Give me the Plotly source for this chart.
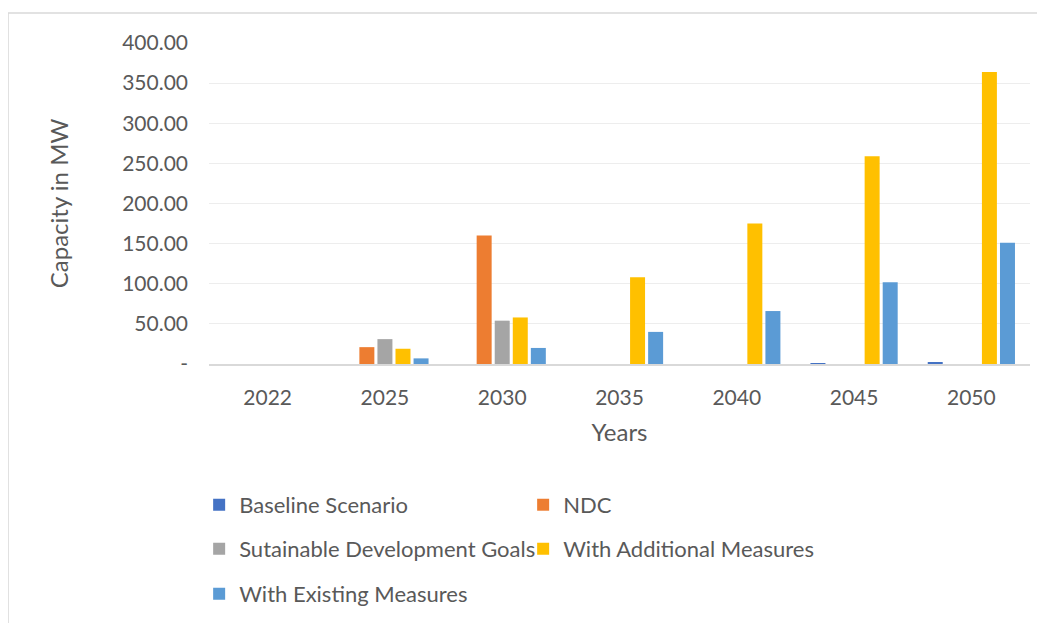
import plotly.graph_objects as go

years = ["2022", "2025", "2030", "2035", "2040", "2045", "2050"]
baseline = [0, 0, 0, 0, 0, 1.2, 1.8]
ndc = [0, 21, 160, 0, 0, 0, 0]
sdg = [0, 31, 54, 0, 0, 0, 0]
wam = [0, 19, 58, 108, 175, 259, 364]
wem = [0, 7, 20, 40, 66, 102, 151]

series = [
    ("Baseline Scenario", baseline, "#4472C4", "legend"),
    ("NDC", ndc, "#ED7D31", "legend"),
    ("Sutainable Development Goals", sdg, "#A5A5A5", "legend2"),
    ("With Additional Measures", wam, "#FFC000", "legend2"),
    ("With Existing Measures", wem, "#5B9BD5", "legend3"),
]

ytick_vals = [0, 50, 100, 150, 200, 250, 300, 350, 400]
ytick_text = ["-", "50.00", "100.00", "150.00", "200.00", "250.00", "300.00", "350.00", "400.00"]

font_family = "Lato, 'Noto Sans', sans-serif"
gray = "#595959"

fig = go.Figure()
for name, vals, col, lg in series:
    fig.add_trace(go.Bar(x=years, y=vals, name=name, marker_color=col,
                         marker_line_width=0, legend=lg))

def legend_at(y):
    return dict(orientation="h", x=-0.012, y=y, xanchor="left", yanchor="middle",
                entrywidth=279, entrywidthmode="pixels", traceorder="normal",
                font=dict(size=22, color=gray), bgcolor="rgba(0,0,0,0)")

fig.update_layout(
    width=1045, height=623,
    paper_bgcolor="white", plot_bgcolor="white",
    margin=dict(l=201, r=23, t=35, b=267, autoexpand=False),
    barmode="group", bargap=0.23, bargroupgap=0.17,
    font=dict(family=font_family, color=gray, size=21),
    xaxis=dict(type="category", showline=True, linecolor="#d9d9d9", linewidth=2,
               ticks="", tickfont=dict(size=21, color=gray), automargin=False,
               ticklabelstandoff=14,
               title=dict(text="Years", font=dict(size=24, color=gray), standoff=16)),
    yaxis=dict(range=[0, 400], tickvals=ytick_vals, ticktext=ytick_text,
               showgrid=True, gridcolor="#ededed", gridwidth=1, zeroline=False,
               ticks="", tickfont=dict(size=21, color=gray), ticklabelstandoff=20,
               automargin=False,
               title=dict(text="Capacity in MW", font=dict(size=24, color=gray), standoff=46)),
    legend=legend_at(-0.439),
    legend2=legend_at(-0.576),
    legend3=legend_at(-0.7165),
    showlegend=True,
    shapes=[dict(type="rect", xref="paper", yref="paper",
                 x0=-0.2448, x1=1.03, y0=-0.9, y1=1.0935,
                 line=dict(color="#d9d9d9", width=1.5), fillcolor="rgba(0,0,0,0)",
                 layer="below")],
)

fig.write_html("out.html")
